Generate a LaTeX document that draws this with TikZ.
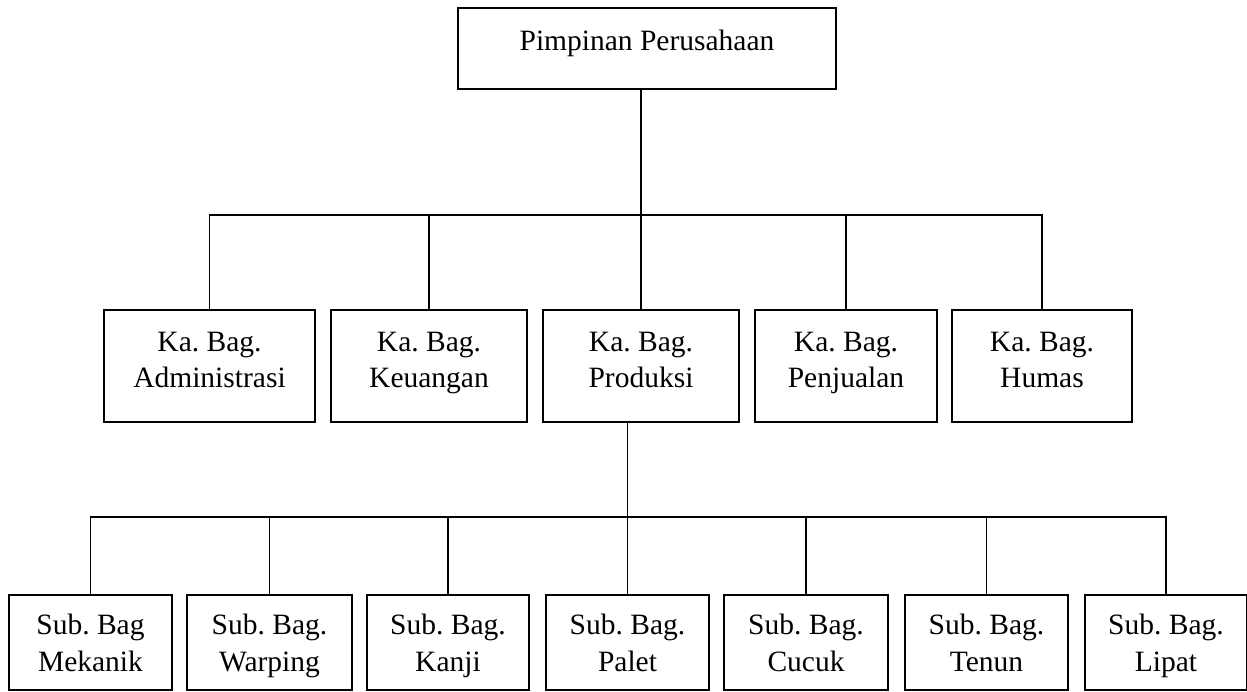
\documentclass[tikz,border=0pt]{standalone}
\usepackage{fontspec}
\setmainfont{Liberation Serif}
\usepackage{tikz}
\usetikzlibrary{positioning}
\frenchspacing

\begin{document}
\begin{tikzpicture}[x=1pt, y=-1pt,
    kotak/.style={draw, line width=1.5pt, rectangle, align=center, inner sep=0pt,
      font=\fontsize{29.5}{36}\selectfont},
    kabag/.style={kotak, minimum height=112pt, text height=57pt, text depth=15pt},
    subbag/.style={kotak, minimum height=95pt, text height=57pt, text depth=0pt,
      font=\fontsize{29.5}{37}\selectfont},
    garis/.style={line width=1.1pt}]
            \useasboundingbox (0,0) rectangle (1247,691);

            % Pimpinan
            \node[kotak, minimum width=378pt, minimum height=81pt, text height=20pt, text depth=17pt] (pimpinan) at (647,48.5) {Pimpinan Perusahaan};

            % Kepala bagian
            \node[kabag, minimum width=211pt] (admin) at (209.5,366) {Ka. Bag.\\Administrasi};
            \node[kabag, minimum width=196pt] (keuangan) at (429,366) {Ka. Bag.\\Keuangan};
            \node[kabag, minimum width=196pt] (produksi) at (641,366) {Ka. Bag.\\Produksi};
            \node[kabag, minimum width=182pt] (penjualan) at (846,366) {Ka. Bag.\\Penjualan};
            \node[kabag, minimum width=180pt] (humas) at (1042,366) {Ka. Bag.\\Humas};

            % Sub bagian
            \node[subbag, minimum width=163pt] (mekanik) at (90.5,642.5) {Sub. Bag\\Mekanik};
            \node[subbag, minimum width=165pt] (warping) at (269.5,642.5) {Sub. Bag.\\Warping};
            \node[subbag, minimum width=162pt] (kanji) at (448,642.5) {Sub. Bag.\\Kanji};
            \node[subbag, minimum width=163pt] (palet) at (627.5,642.5) {Sub. Bag.\\Palet};
            \node[subbag, minimum width=164pt] (cucuk) at (806,642.5) {Sub. Bag.\\Cucuk};
            \node[subbag, minimum width=163pt] (tenun) at (986.5,642.5) {Sub. Bag.\\Tenun};
            \node[subbag, minimum width=162pt] (lipat) at (1166,642.5) {Sub. Bag.\\Lipat};

            % Jalur
            \coordinate (jalur1) at (0,215);
            \coordinate (jalur2) at (0,517);

            % Garis
            \draw[garis] (pimpinan.south -| produksi.north) -- (produksi.north);
            \draw[garis] (admin.north) |- (jalur1 -| humas.north) -- (humas.north);
            \foreach \b in {keuangan, penjualan}
              \draw[garis] (\b.north) -- (\b.north |- jalur1);
            \draw[garis] (produksi.south -| palet.north) -- (palet.north);
            \draw[garis] (mekanik.north) |- (jalur2 -| lipat.north) -- (lipat.north);
            \foreach \s in {warping, kanji, cucuk, tenun}
              \draw[garis] (\s.north) -- (\s.north |- jalur2);
          \end{tikzpicture}
\end{document}
